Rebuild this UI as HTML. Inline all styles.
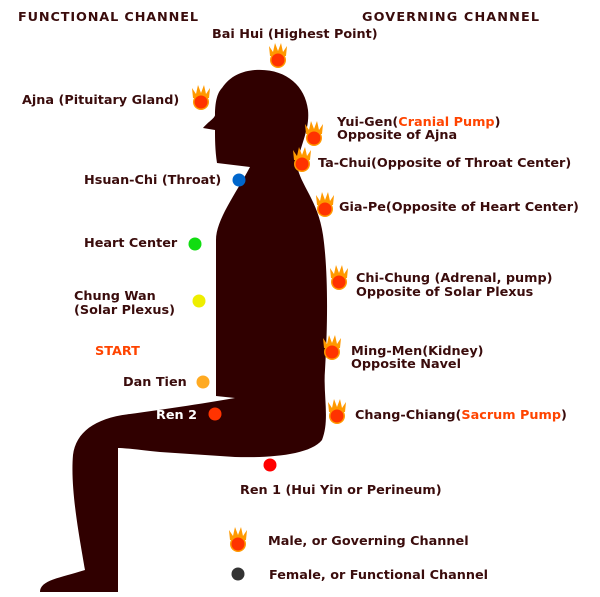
<!DOCTYPE html>
<html><head><style>
body{margin:0;background:#fff;width:600px;height:597px;overflow:hidden}
svg{position:absolute;left:0;top:0}
text{font-family:"DejaVu Sans","Liberation Sans",sans-serif;font-weight:bold;font-size:12.8px;fill:#3a0c0c}
.w{fill:#fff}.o{fill:#ff4400}
</style></head><body>
<svg width="600" height="597" viewBox="0 0 600 597">
<defs>
<g id="f">
<path d="M-8,-2 L-9,-12 L-5,-6 L-3,-15 L0,-7 L3,-15 L5,-6 L9,-12 L8,-2 Z" fill="#ff9900"/>
<circle cx="0" cy="2" r="8" fill="#ff9900"/>
<circle cx="0" cy="2" r="6.5" fill="#ff3300"/>
</g>
</defs>
<path fill="#300000" d="M255,70 C285,68 305,85 308,110 C310,130 300,145 297,165 C300,185 318,200 323,235 C328,270 328,320 325,370 C323,395 330,420 322,440 C310,455 270,458 235,457 L160,452 C140,450 125,448 118,448 C118,500 118,560 118,592 L40,592 C40,580 60,578 85,570 C80,540 70,490 73,455 C76,432 95,418 130,414 C160,410 200,404 235,398 L216,396 L216,240 C216,220 235,195 250,167 L217,163 C215,150 215,138 215,130 L203,128 C208,122 215,118 215,115 C215,100 218,92 222,88 C230,76 242,71 255,70 Z"/>
<text x="18" y="21" textLength="180">FUNCTIONAL CHANNEL</text>
<text x="362" y="21" textLength="177">GOVERNING CHANNEL</text>
<text x="212" y="38">Bai Hui (Highest Point)</text>
<use href="#f" x="278" y="58"/>
<text x="22" y="104">Ajna (Pituitary Gland)</text>
<use href="#f" x="201" y="100"/>
<use href="#f" x="314" y="136"/>
<text x="337" y="126">Yui-Gen(<tspan class="o">Cranial Pump</tspan>)</text>
<text x="337" y="139">Opposite of Ajna</text>
<use href="#f" x="302" y="162"/>
<text x="318" y="167">Ta-Chui(Opposite of Throat Center)</text>
<text x="84" y="184">Hsuan-Chi (Throat)</text>
<circle cx="239" cy="180" r="6.5" fill="#0066cc"/>
<use href="#f" x="325" y="207"/>
<text x="339" y="211">Gia-Pe(Opposite of Heart Center)</text>
<text x="84" y="247">Heart Center</text>
<circle cx="195" cy="244" r="6.5" fill="#11dd11"/>
<use href="#f" x="339" y="280"/>
<text x="356" y="282">Chi-Chung (Adrenal, pump)</text>
<text x="356" y="296">Opposite of Solar Plexus</text>
<text x="74" y="300">Chung Wan</text>
<text x="74" y="314">(Solar Plexus)</text>
<circle cx="199" cy="301" r="6.5" fill="#eeee00"/>
<text x="95" y="355" class="o">START</text>
<use href="#f" x="332" y="350"/>
<text x="351" y="355">Ming-Men(Kidney)</text>
<text x="351" y="368">Opposite Navel</text>
<text x="123" y="386">Dan Tien</text>
<circle cx="203" cy="382" r="6.5" fill="#ffaa22"/>
<text x="156" y="419" class="w">Ren 2</text>
<circle cx="215" cy="414" r="6.5" fill="#ff3300"/>
<use href="#f" x="337" y="414"/>
<text x="355" y="419">Chang-Chiang(<tspan class="o">Sacrum Pump</tspan>)</text>
<circle cx="270" cy="465" r="6.5" fill="#ff0000"/>
<text x="240" y="494">Ren 1 (Hui Yin or Perineum)</text>
<use href="#f" x="238" y="542"/>
<text x="268" y="545">Male, or Governing Channel</text>
<circle cx="238" cy="574" r="6.5" fill="#333"/>
<text x="269" y="579">Female, or Functional Channel</text>
</svg>
</body></html>
